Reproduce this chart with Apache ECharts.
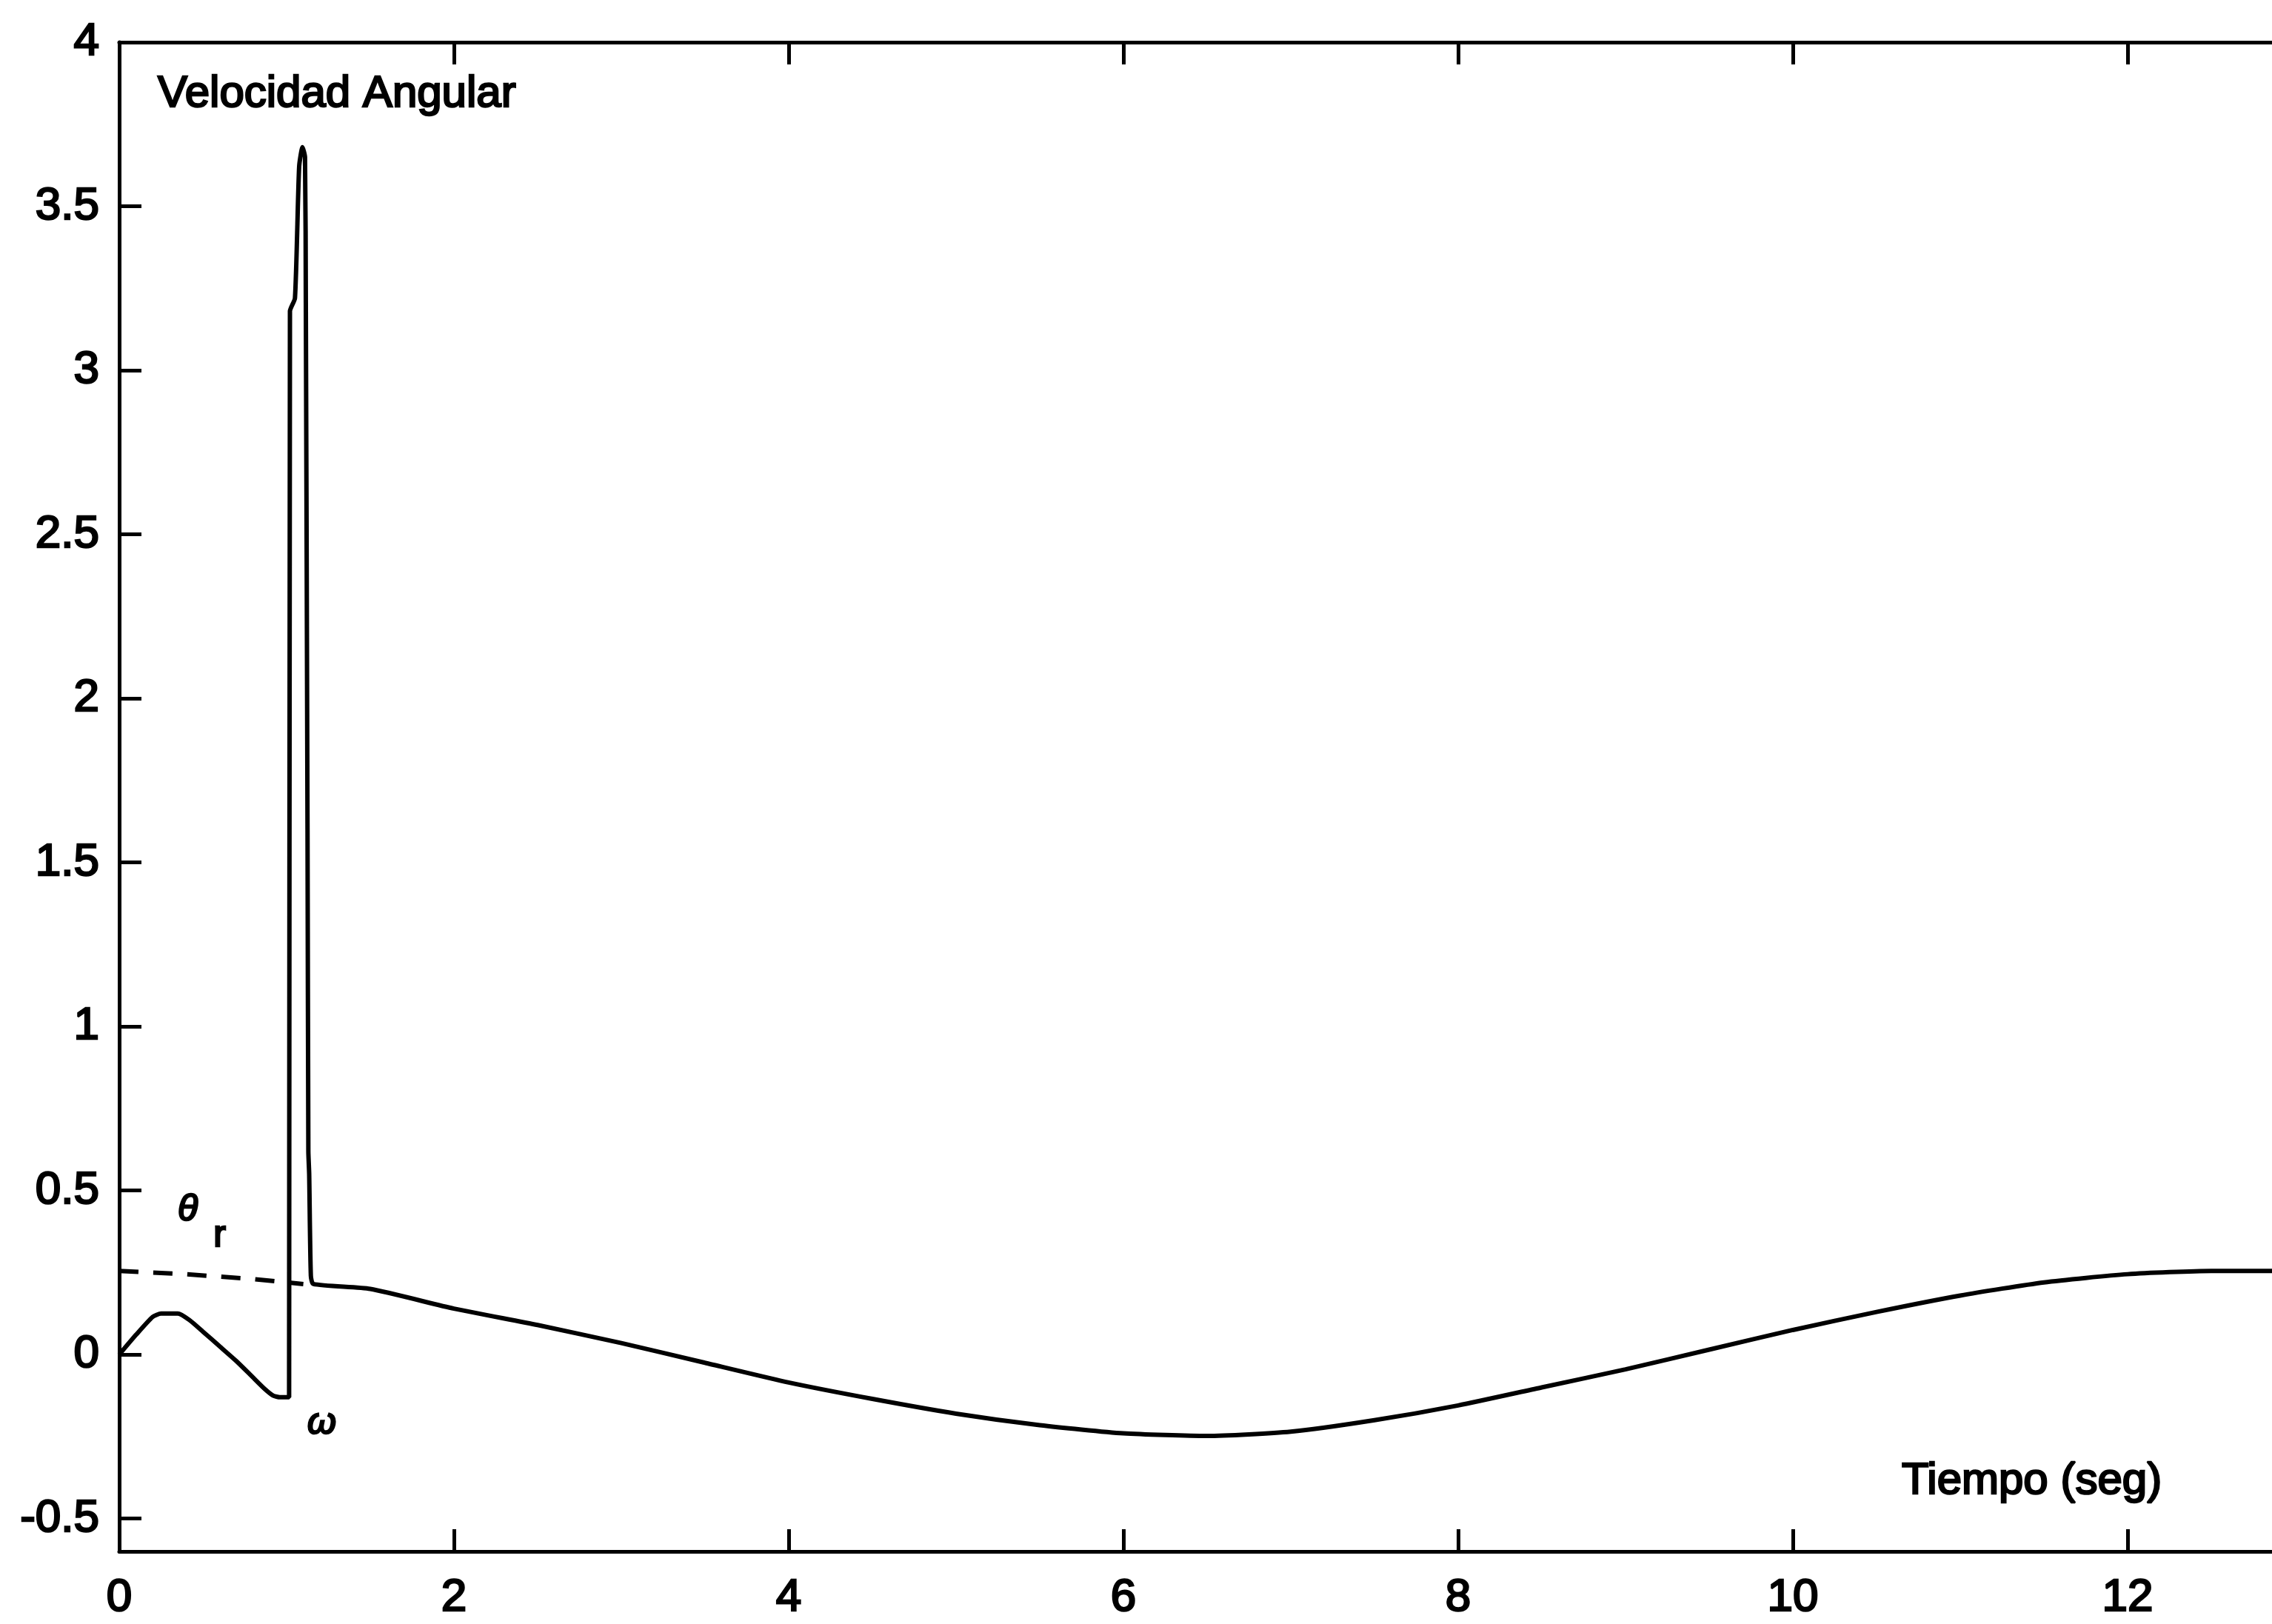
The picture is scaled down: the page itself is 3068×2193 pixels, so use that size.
<!DOCTYPE html>
<html>
<head>
<meta charset="utf-8">
<script src="https://cdn.jsdelivr.net/npm/echarts@6/dist/echarts.min.js"></script>
<style>
html,body{margin:0;padding:0;overflow:hidden;background:#ffffff;width:3068px;height:2193px}
#c{width:3140px;height:2193px}
</style>
</head>
<body>
<div id="c"></div>
<script>
// angular velocity omega (solid)
const tOmega = [0, 0.1, 0.2, 0.25, 0.35, 0.42, 0.5, 0.6, 0.7, 0.8, 0.87, 0.92, 0.96, 1.0, 1.015,
  1.02, 1.05, 1.075, 1.095, 1.11, 1.115, 1.125, 1.13, 1.135, 1.145, 1.16,
  1.5, 2, 2.5, 3, 3.5, 4, 4.5, 5, 5.5, 6, 6.5, 7, 7.5, 8, 8.5, 9, 9.5, 10, 10.5, 11, 11.5, 12, 12.5, 13];
const vOmega = [0, 0.06, 0.115, 0.125, 0.125, 0.105, 0.07, 0.025, -0.02, -0.07, -0.105, -0.125, -0.13, -0.13, -0.13,
  3.18, 3.22, 3.62, 3.68, 3.65, 3.2, 1.6, 0.62, 0.55, 0.24, 0.215,
  0.2, 0.14, 0.09, 0.035, -0.025, -0.085, -0.135, -0.18, -0.215, -0.24, -0.248, -0.235, -0.2, -0.155, -0.1, -0.045, 0.015, 0.075, 0.13, 0.18, 0.22, 0.245, 0.255, 0.255];
// reference theta_r (dashed)
const tRef = [0, 0.4, 0.8, 1.1];
const vRef = [0.255, 0.245, 0.23, 0.215];
// ticks
const xTicks = [0, 2, 4, 6, 8, 10, 12];
const yTicks = [-0.5, 0, 0.5, 1, 1.5, 2, 2.5, 3, 3.5, 4];
// text annotations (data coordinates)
const annText = ['Velocidad Angular', '\u03b8', 'r', '\u03c9', 'Tiempo (seg)'];
const annT = [0.23, 0.41, 0.6, 1.21, 10.65];
const annV = [3.84, 0.44, 0.36, -0.21, -0.386];
const annStyle = ['normal', 'italic', 'normal', 'italic', 'normal'];
const annSize = [60, 50, 50, 50, 60];

const FONT = 'Liberation Sans, Arial, Helvetica, sans-serif';
const axisLineStyle = {color: '#000', width: 5};
const labelStyle = {color: '#000', fontSize: 62, fontFamily: FONT, textBorderColor: '#000', textBorderWidth: 2.5};

const chart = echarts.init(document.getElementById('c'), null, {renderer: 'canvas'});
const option = {
  animation: false,
  backgroundColor: '#ffffff',
  grid: {left: 161, top: 57, right: 41, bottom: 98, containLabel: false, outerBoundsMode: 'none'},
  xAxis: [
    {type: 'value', min: 0, max: 13, position: 'bottom',
     axisLine: {show: true, onZero: false, lineStyle: axisLineStyle},
     axisTick: {show: true, inside: true, length: 30, lineStyle: axisLineStyle, customValues: xTicks},
     axisLabel: Object.assign({customValues: xTicks, margin: 32}, labelStyle),
     splitLine: {show: false}},
    {type: 'value', min: 0, max: 13, position: 'top',
     axisLine: {show: true, onZero: false, lineStyle: axisLineStyle},
     axisTick: {show: true, inside: true, length: 30, lineStyle: axisLineStyle, customValues: xTicks},
     axisLabel: {show: false},
     splitLine: {show: false}}
  ],
  yAxis: [
    {type: 'value', min: -0.6, max: 4, position: 'left',
     axisLine: {show: true, onZero: false, lineStyle: axisLineStyle},
     axisTick: {show: true, inside: true, length: 30, lineStyle: axisLineStyle, customValues: yTicks},
     axisLabel: Object.assign({customValues: yTicks, margin: 27}, labelStyle),
     splitLine: {show: false}},
    {type: 'value', min: -0.6, max: 4, position: 'right',
     axisLine: {show: true, onZero: false, lineStyle: axisLineStyle},
     axisTick: {show: true, inside: true, length: 30, lineStyle: axisLineStyle, customValues: yTicks},
     axisLabel: {show: false},
     splitLine: {show: false}}
  ],
  series: [
    {type: 'line', name: 'omega', xAxisIndex: 0, yAxisIndex: 0, showSymbol: false,
     smooth: 0.2,
     data: tOmega.map((t, i) => [t, vOmega[i]]),
     lineStyle: {color: '#000', width: 6}, itemStyle: {color: '#000'}},
    {type: 'line', name: 'theta_r', xAxisIndex: 0, yAxisIndex: 0, showSymbol: false,
     data: tRef.map((t, i) => [t, vRef[i]]),
     lineStyle: {color: '#000', width: 6, type: [26, 20]}, itemStyle: {color: '#000'}}
  ]
};
chart.setOption(option);

const graphics = annText.map((txt, i) => {
  const p = chart.convertToPixel({gridIndex: 0}, [annT[i], annV[i]]);
  return {
    type: 'text', x: p[0], y: p[1],
    style: {text: txt, fill: '#000', font: annStyle[i] + ' ' + annSize[i] + 'px ' + FONT,
            verticalAlign: 'middle', align: i === 1 || i === 2 || i === 3 ? 'center' : 'left',
            stroke: '#000', lineWidth: 2.5}
  };
});
chart.setOption({graphic: graphics});
</script>
</body>
</html>
